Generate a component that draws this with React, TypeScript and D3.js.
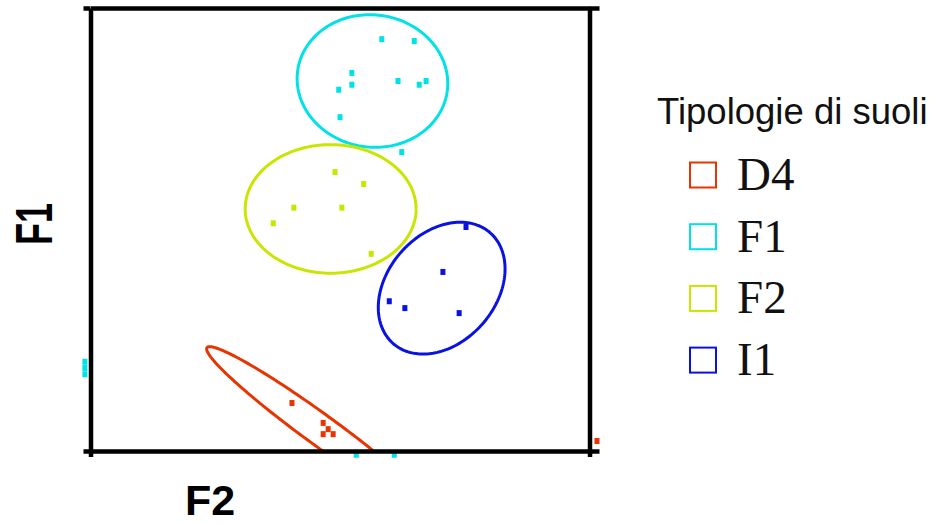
import React, { useEffect, useRef } from 'react';
import * as d3 from 'd3';

// soil types (legend order) and colours
const groups = ['D4', 'F1', 'F2', 'I1'];
const groupColors = ['#e83400', '#00e2e8', '#c8e600', '#0a12e2'];

// confidence ellipses, in F2 / F1 units
const ellipseCx = [-0.32, 0.52, -0.15, 1.63];
const ellipseCy = [-3.21, 2.38, 0.33, -0.94];
const ellipseA = [2.24, 1.21, 1.37, 1.18];
const ellipseB = [0.25, 1.06, 1.03, 0.87];
const ellipseAngle = [-36, -8, 0, 48.8];

// observations per soil type
const d4X = [-0.77, -0.27, -0.19, -0.27, -0.11, 4.12];
const d4Y = [-2.78, -3.1, -3.2, -3.28, -3.28, -3.39];
const f1X = [0.67, 1.19, 0.19, 0.19, -0.02, 0.93, 1.27, 1.38, 0.0, 0.99, -4.09, -4.09, -4.09, 0.26, 0.87];
const f1Y = [3.05, 3.02, 2.51, 2.32, 2.24, 2.38, 2.32, 2.38, 1.8, 1.24, -2.12, -2.22, -2.32, -3.61, -3.61];
const f2X = [-0.08, 0.38, -0.74, 0.03, -1.07, 0.5];
const f2Y = [0.92, 0.73, 0.35, 0.35, 0.1, -0.39];
const i1X = [1.65, 0.79, 1.04, 1.91, 2.02];
const i1Y = [-0.68, -1.15, -1.26, -1.34, 0.04];

const pointsX = [d4X, f1X, f2X, i1X];
const pointsY = [d4Y, f1Y, f2Y, i1Y];

const xDomain = [-4, 4];
const yDomain = [-3.55, 3.55];

const App = () => {
  const chartRef = useRef<SVGSVGElement | null>(null);

  useEffect(() => {
    const width = 938;
    const height = 525;
    const svg = d3.select(chartRef.current);
    svg.selectAll('*').remove();

    const x = d3.scaleLinear().domain(xDomain).range([90.5, 589.5]);
    const y = d3.scaleLinear().domain(yDomain).range([451, 8]);

    svg.append('defs').append('clipPath').attr('id', 'plotClip')
      .append('rect')
      .attr('x', x(xDomain[0])).attr('y', y(yDomain[1]))
      .attr('width', x(xDomain[1]) - x(xDomain[0]))
      .attr('height', y(yDomain[0]) - y(yDomain[1]));

    // ellipses
    const line = d3.line<[number, number]>().x(d => x(d[0])).y(d => y(d[1]));
    const angles = d3.range(0, 361, 2);
    const ell = svg.append('g').attr('clip-path', 'url(#plotClip)');
    groups.forEach((g, i) => {
      const th = (ellipseAngle[i] * Math.PI) / 180;
      const pts: [number, number][] = angles.map(t => {
        const r = (t * Math.PI) / 180;
        const u = ellipseA[i] * Math.cos(r);
        const v = ellipseB[i] * Math.sin(r);
        return [
          ellipseCx[i] + u * Math.cos(th) - v * Math.sin(th),
          ellipseCy[i] + u * Math.sin(th) + v * Math.cos(th)
        ];
      });
      ell.append('path')
        .attr('d', line(pts))
        .attr('fill', 'none')
        .attr('stroke', groupColors[i])
        .attr('stroke-width', 3);
    });

    // observations
    groups.forEach((g, i) => {
      svg.append('g').selectAll('rect')
        .data(pointsX[i].map((v, j) => [v, pointsY[i][j]]))
        .enter()
        .append('rect')
        .attr('x', d => x(d[0]) - 2.5)
        .attr('y', d => y(d[1]) - 3)
        .attr('width', 5)
        .attr('height', 6)
        .attr('fill', groupColors[i]);
    });

    // frame with end ticks
    const frame = svg.append('g');
    const axisStyle = (sel: any) => {
      sel.select('.domain').attr('stroke', '#000').attr('stroke-width', 4.5);
      sel.selectAll('.tick line').attr('stroke', '#000').attr('stroke-width', 4.5);
      sel.selectAll('.tick text').remove();
    };
    frame.append('g').attr('transform', `translate(0,${y(yDomain[0])})`)
      .call(d3.axisBottom(x).tickValues(xDomain).tickSizeInner(6).tickSizeOuter(0))
      .call(axisStyle);
    frame.append('g').attr('transform', `translate(${x(xDomain[0])},0)`)
      .call(d3.axisLeft(y).tickValues(yDomain).tickSizeInner(7).tickSizeOuter(0))
      .call(axisStyle);
    frame.append('g').attr('transform', `translate(0,${y(yDomain[1])})`)
      .call(d3.axisTop(x).tickValues([]).tickSizeOuter(0))
      .call(axisStyle);
    frame.append('g').attr('transform', `translate(${x(xDomain[1])},0)`)
      .call(d3.axisRight(y).tickValues(yDomain).tickSizeInner(10).tickSizeOuter(0))
      .call(axisStyle);

    // axis titles
    svg.append('text')
      .attr('x', 210).attr('y', 515)
      .attr('text-anchor', 'middle')
      .attr('font-family', 'Liberation Sans, Arial, sans-serif')
      .attr('font-weight', 'bold')
      .attr('font-size', 43)
      .text('F2');
    svg.append('text')
      .attr('transform', 'translate(52,224) rotate(-90)')
      .attr('text-anchor', 'middle')
      .attr('font-family', 'Liberation Sans, Arial, sans-serif')
      .attr('font-weight', 'bold')
      .attr('font-size', 52)
      .attr('textLength', 42)
      .attr('lengthAdjust', 'spacingAndGlyphs')
      .text('F1');

    // legend
    const legend = svg.append('g');
    legend.append('text')
      .attr('x', 657).attr('y', 124)
      .attr('font-family', 'Liberation Sans, Arial, sans-serif')
      .attr('font-size', 36.5)
      .attr('fill', '#111')
      .text('Tipologie di suoli');
    const items = legend.selectAll('g.item')
      .data(groups)
      .enter()
      .append('g')
      .attr('class', 'item')
      .attr('transform', (d, i) => `translate(0,${175 + i * 61.7})`);
    items.append('rect')
      .attr('x', 690).attr('y', -12.5)
      .attr('width', 26).attr('height', 25)
      .attr('fill', 'none')
      .attr('stroke', (d, i) => groupColors[i])
      .attr('stroke-width', 2);
    items.append('text')
      .attr('x', 737).attr('y', 15)
      .attr('font-family', 'Liberation Serif, Times New Roman, serif')
      .attr('font-size', 47)
      .attr('fill', '#111')
      .text(d => d);

    svg.attr('width', width).attr('height', height);
  }, []);

  return (
    <svg
      ref={chartRef}
      width={938}
      height={525}
      style={{ position: 'absolute', left: 0, top: 0, background: '#fff' }}
    />
  );
};

export default App;
